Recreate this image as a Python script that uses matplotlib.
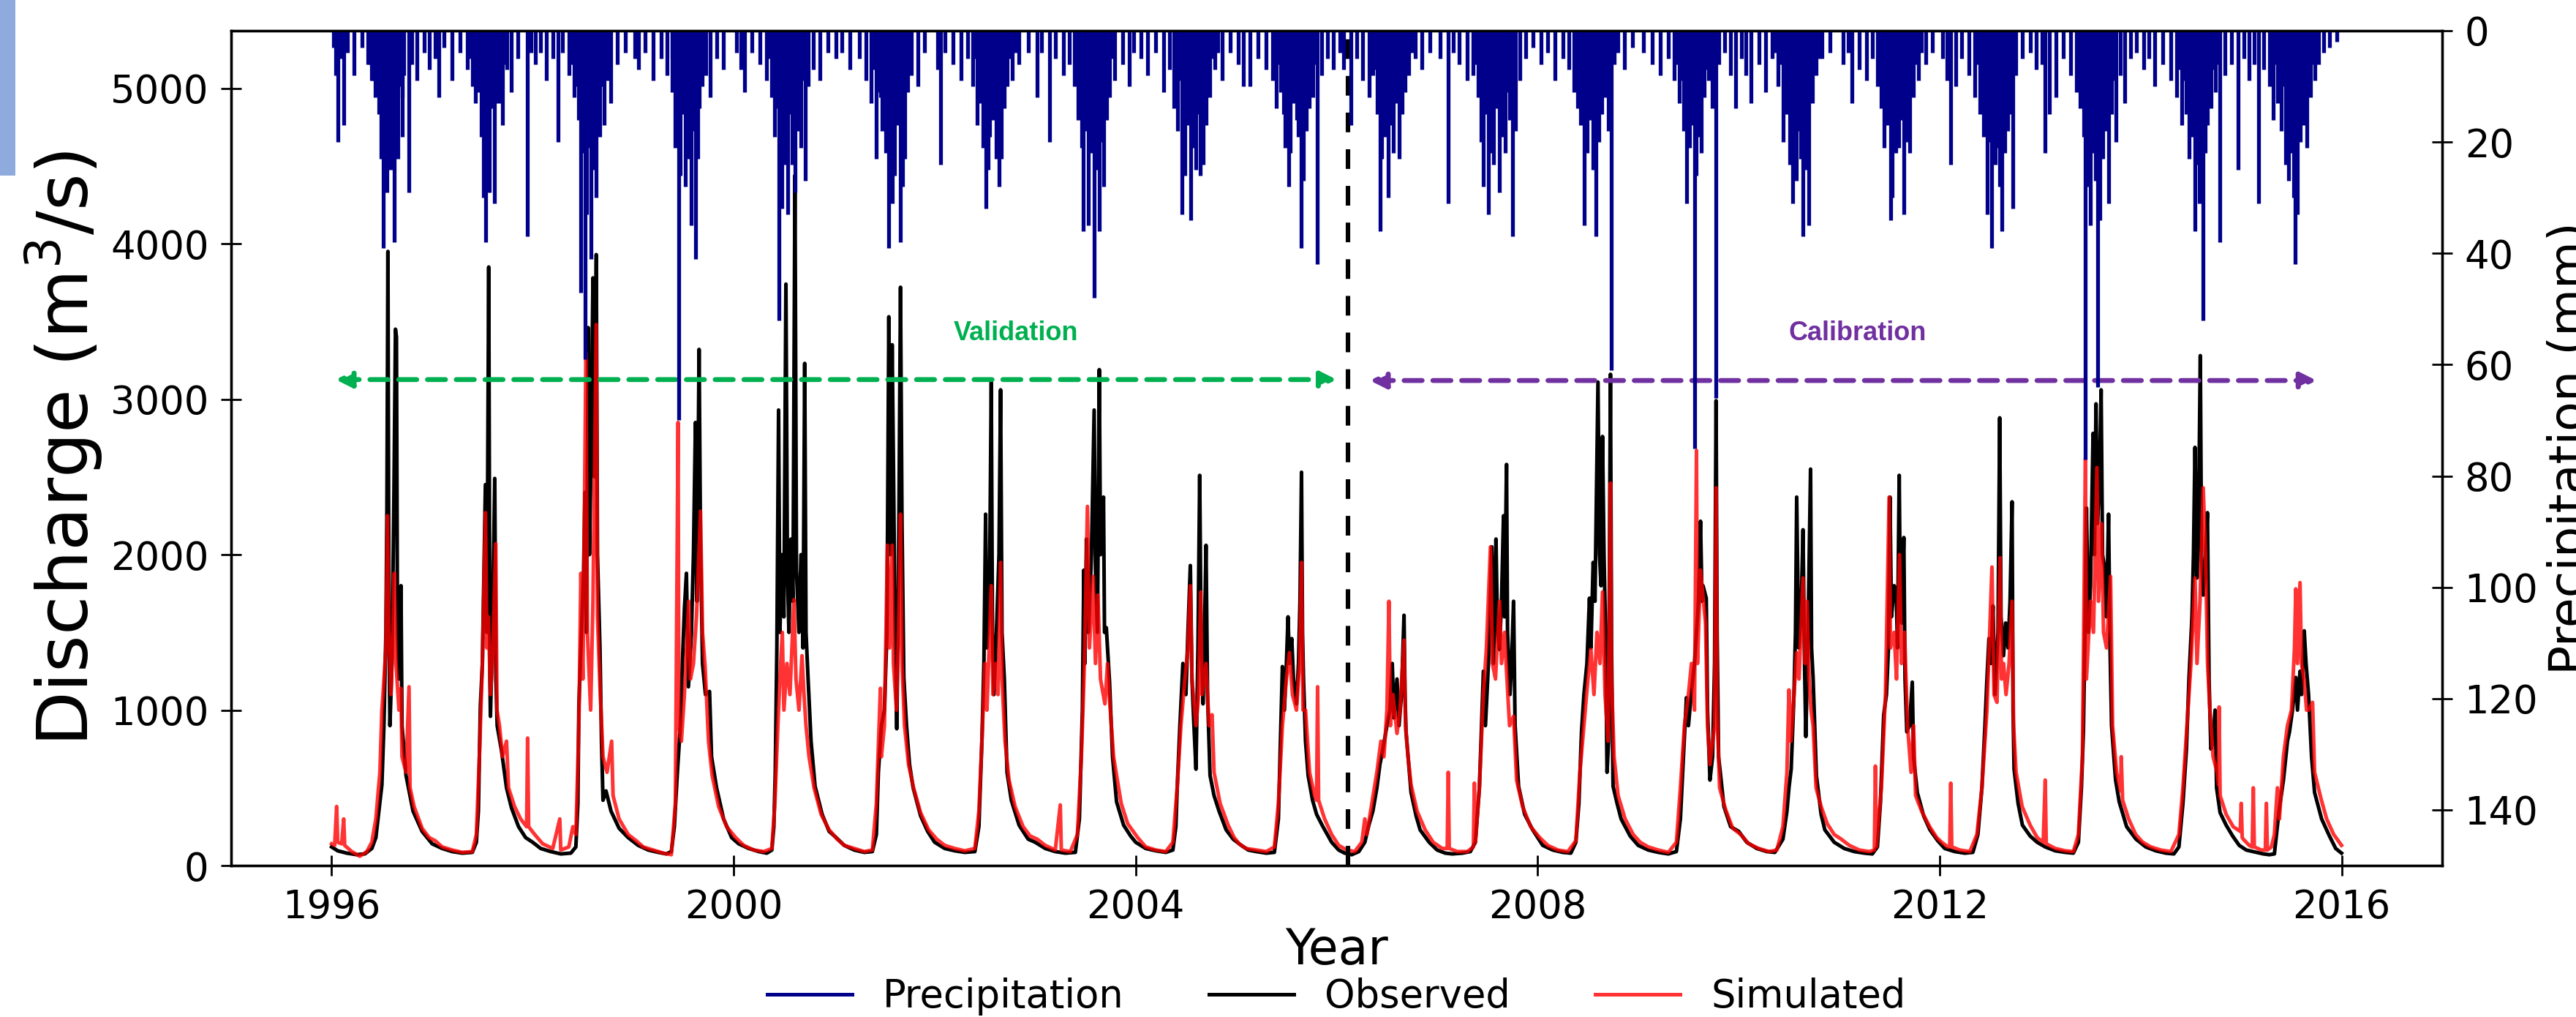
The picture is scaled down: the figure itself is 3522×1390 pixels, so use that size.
#---Observed vs simulated discharge with inverted precipitation on a twin axis
import numpy as np
import matplotlib
matplotlib.use('Agg')
import matplotlib.pyplot as plt
from matplotlib.lines import Line2D
from matplotlib.patches import Rectangle

#---Observed discharge (decimal year, m3/s)
observed = [
    (1996.00,120),(1996.06,95),(1996.15,80),(1996.25,70),(1996.33,75),(1996.40,110),(1996.44,180),(1996.47,350),(1996.50,520),(1996.52,900),(1996.54,1500),(1996.55,2300),(1996.56,3950),(1996.57,1600),(1996.58,900),(1996.60,1300),(1996.62,2400),(1996.635,3450),(1996.645,3400),(1996.655,1500),(1996.67,1200),(1996.69,1800),(1996.70,900),(1996.74,580),(1996.81,350),(1996.90,220),
    (1997.00,140),(1997.10,110),(1997.20,90),(1997.30,80),(1997.40,85),(1997.44,150),(1997.46,350),(1997.48,1030),(1997.50,1300),(1997.53,2450),(1997.545,1500),(1997.563,3850),(1997.575,1200),(1997.58,960),(1997.60,1500),(1997.623,2490),(1997.635,1200),(1997.647,900),(1997.69,740),(1997.74,500),(1997.79,370),(1997.86,250),(1997.93,180),
    (1998.00,150),(1998.08,110),(1998.18,90),(1998.28,75),(1998.38,80),(1998.43,120),(1998.45,400),(1998.46,1030),(1998.48,1400),(1998.507,1880),(1998.52,2400),(1998.535,1500),(1998.553,3460),(1998.565,2000),(1998.58,2600),(1998.60,3780),(1998.615,2500),(1998.633,3930),(1998.645,2000),(1998.67,1390),(1998.685,800),(1998.70,420),(1998.73,480),(1998.78,350),(1998.86,240),(1998.95,180),
    (1999.05,130),(1999.15,100),(1999.25,85),(1999.33,75),(1999.38,90),(1999.41,250),(1999.44,600),(1999.47,900),(1999.49,1300),(1999.51,1650),(1999.53,1880),(1999.55,1150),(1999.58,1500),(1999.60,2000),(1999.62,2850),(1999.635,1700),(1999.656,3320),(1999.67,2100),(1999.69,1300),(1999.72,1100),(1999.76,1120),(1999.78,700),(1999.83,500),(1999.90,300),(1999.98,180),
    (2000.05,140),(2000.15,110),(2000.25,90),(2000.33,80),(2000.38,100),(2000.40,250),(2000.414,600),(2000.43,1400),(2000.447,2930),(2000.46,1500),(2000.48,2000),(2000.50,1600),(2000.52,3740),(2000.535,1900),(2000.55,1500),(2000.57,2100),(2000.59,1700),(2000.61,4440),(2000.625,1900),(2000.65,1500),(2000.67,2000),(2000.69,1400),(2000.707,3230),(2000.72,1500),(2000.74,1210),(2000.77,800),(2000.81,510),(2000.88,330),(2000.95,220),
    (2001.02,180),(2001.10,130),(2001.20,100),(2001.30,85),(2001.38,90),(2001.42,200),(2001.44,600),(2001.47,900),(2001.50,1000),(2001.525,1500),(2001.544,3530),(2001.56,2000),(2001.577,3350),(2001.59,2570),(2001.605,1600),(2001.623,880),(2001.64,1800),(2001.66,3720),(2001.675,2200),(2001.693,1210),(2001.72,900),(2001.75,650),(2001.786,500),(2001.86,320),(2001.93,220),
    (2002.00,150),(2002.10,110),(2002.20,95),(2002.30,85),(2002.40,90),(2002.44,250),(2002.47,800),(2002.49,1300),(2002.507,2260),(2002.52,1400),(2002.545,1700),(2002.563,3110),(2002.575,1500),(2002.59,1100),(2002.62,1600),(2002.64,2000),(2002.656,3060),(2002.67,1500),(2002.693,1200),(2002.72,600),(2002.763,420),(2002.84,260),(2002.93,170),
    (2003.00,150),(2003.10,110),(2003.20,90),(2003.30,80),(2003.40,85),(2003.44,300),(2003.47,1000),(2003.484,1900),(2003.495,1300),(2003.51,2100),(2003.53,1500),(2003.56,2000),(2003.587,2930),(2003.60,1900),(2003.62,1500),(2003.638,3190),(2003.65,2000),(2003.68,2370),(2003.69,1500),(2003.708,1530),(2003.74,1180),(2003.77,700),(2003.81,410),(2003.88,260),(2003.95,190),
    (2004.00,150),(2004.10,110),(2004.20,95),(2004.30,85),(2004.37,100),(2004.40,250),(2004.414,510),(2004.44,900),(2004.47,1300),(2004.50,1100),(2004.52,1500),(2004.544,1930),(2004.56,1200),(2004.58,900),(2004.60,620),(2004.62,1400),(2004.637,2510),(2004.65,1500),(2004.67,1040),(2004.685,1500),(2004.70,2060),(2004.715,1100),(2004.74,580),(2004.78,450),(2004.83,350),(2004.90,230),(2004.97,170),
    (2005.05,130),(2005.12,100),(2005.20,90),(2005.30,80),(2005.38,85),(2005.42,300),(2005.44,800),(2005.46,1280),(2005.48,1000),(2005.50,1300),(2005.516,1600),(2005.53,1300),(2005.553,1460),(2005.57,1200),(2005.60,1040),(2005.62,1300),(2005.635,1700),(2005.65,2530),(2005.66,1500),(2005.67,1200),(2005.69,800),(2005.716,580),(2005.76,420),(2005.80,330),(2005.855,260),(2005.95,150),
    (2006.02,100),(2006.08,80),(2006.15,70),(2006.22,90),(2006.28,150),(2006.32,260),(2006.36,350),(2006.40,500),(2006.43,650),(2006.46,750),(2006.50,900),(2006.53,1000),(2006.553,1300),(2006.57,950),(2006.60,1200),(2006.62,900),(2006.645,1100),(2006.67,1610),(2006.68,1100),(2006.69,860),(2006.74,470),(2006.79,320),(2006.83,230),(2006.92,150),
    (2007.00,100),(2007.08,80),(2007.15,75),(2007.25,80),(2007.33,90),(2007.38,150),(2007.42,500),(2007.46,1250),(2007.48,900),(2007.51,1300),(2007.543,2050),(2007.56,1300),(2007.585,2100),(2007.60,1500),(2007.62,1390),(2007.64,1700),(2007.66,2250),(2007.67,1600),(2007.69,2580),(2007.70,1500),(2007.724,1100),(2007.74,1300),(2007.76,1700),(2007.775,900),(2007.81,510),(2007.87,330),(2007.95,230),
    (2008.05,130),(2008.15,100),(2008.25,85),(2008.33,80),(2008.38,150),(2008.41,400),(2008.436,860),(2008.46,1100),(2008.49,1300),(2008.515,1720),(2008.53,1400),(2008.552,1950),(2008.57,1700),(2008.585,2400),(2008.60,3110),(2008.615,2000),(2008.63,1800),(2008.645,2760),(2008.66,2000),(2008.675,1500),(2008.69,600),(2008.705,800),(2008.724,3160),(2008.735,1400),(2008.75,510),(2008.79,400),(2008.83,300),(2008.92,190),
    (2009.00,130),(2009.10,100),(2009.20,85),(2009.30,75),(2009.38,90),(2009.42,300),(2009.45,700),(2009.48,1080),(2009.50,900),(2009.53,1120),(2009.56,1300),(2009.58,1500),(2009.60,1700),(2009.62,2215),(2009.635,1700),(2009.645,1800),(2009.677,1720),(2009.69,1000),(2009.714,550),(2009.74,700),(2009.76,1300),(2009.775,2990),(2009.785,1500),(2009.80,700),(2009.853,380),(2009.92,250),
    (2010.00,220),(2010.08,150),(2010.18,110),(2010.28,90),(2010.36,85),(2010.44,170),(2010.48,350),(2010.50,500),(2010.522,620),(2010.55,1100),(2010.565,1500),(2010.577,2370),(2010.597,1400),(2010.62,1600),(2010.64,2160),(2010.655,1300),(2010.668,830),(2010.69,1500),(2010.715,2550),(2010.725,1400),(2010.74,1210),(2010.773,580),(2010.82,330),(2010.857,230),(2010.95,150),
    (2011.05,110),(2011.15,90),(2011.25,80),(2011.33,75),(2011.38,120),(2011.41,400),(2011.443,970),(2011.47,1100),(2011.49,1400),(2011.505,2370),(2011.52,1600),(2011.547,1800),(2011.568,1740),(2011.58,1400),(2011.597,2510),(2011.61,1600),(2011.622,1560),(2011.643,2110),(2011.655,1200),(2011.673,860),(2011.70,900),(2011.727,1180),(2011.74,700),(2011.777,470),(2011.84,320),(2011.903,230),(2011.98,160),
    (2012.05,110),(2012.15,90),(2012.25,80),(2012.33,85),(2012.38,200),(2012.42,500),(2012.45,900),(2012.47,1200),(2012.49,1460),(2012.51,1300),(2012.53,1670),(2012.55,1100),(2012.58,1500),(2012.597,2880),(2012.61,1600),(2012.635,1350),(2012.656,1560),(2012.68,1400),(2012.70,1700),(2012.72,2340),(2012.73,1000),(2012.74,620),(2012.78,400),(2012.823,260),(2012.90,190),(2012.97,150),
    (2013.05,120),(2013.15,95),(2013.25,85),(2013.33,80),(2013.38,150),(2013.41,500),(2013.43,860),(2013.445,1500),(2013.46,2300),(2013.48,1500),(2013.50,1800),(2013.526,2780),(2013.54,2000),(2013.555,2970),(2013.57,2200),(2013.59,2500),(2013.606,3060),(2013.62,2000),(2013.64,1920),(2013.66,1600),(2013.68,2260),(2013.695,1400),(2013.71,900),(2013.75,550),(2013.786,410),(2013.86,250),(2013.953,170),
    (2014.05,120),(2014.15,95),(2014.25,80),(2014.33,75),(2014.38,120),(2014.42,400),(2014.455,750),(2014.48,1200),(2014.51,1600),(2014.525,2000),(2014.54,2690),(2014.56,1850),(2014.575,2200),(2014.593,3280),(2014.605,2000),(2014.622,1740),(2014.64,1900),(2014.664,2270),(2014.68,1200),(2014.698,750),(2014.72,800),(2014.74,1000),(2014.755,500),(2014.79,340),(2014.85,260),(2014.915,190),(2014.98,130),
    (2015.05,100),(2015.15,85),(2015.22,75),(2015.28,70),(2015.33,75),(2015.376,350),(2015.42,550),(2015.46,800),(2015.48,860),(2015.51,1000),(2015.543,1210),(2015.56,1000),(2015.585,1250),(2015.60,1100),(2015.627,1510),(2015.645,1300),(2015.67,1100),(2015.70,700),(2015.73,470),(2015.80,300),(2015.878,190),(2015.94,110),(2015.998,80),
]

#---Simulated discharge (decimal year, m3/s)
simulated = [
    (1996.00,140),(1996.03,130),(1996.05,380),(1996.06,150),(1996.10,140),(1996.12,300),(1996.13,130),(1996.20,90),(1996.28,60),(1996.35,90),(1996.40,150),(1996.44,300),(1996.48,600),(1996.50,1000),(1996.51,1090),(1996.54,1400),(1996.555,2250),(1996.57,1500),(1996.59,1100),(1996.61,1500),(1996.623,1880),(1996.64,1300),(1996.67,1000),(1996.69,1140),(1996.70,700),(1996.74,600),(1996.77,1150),(1996.78,500),(1996.82,380),(1996.90,240),(1996.97,180),
    (1997.03,160),(1997.10,120),(1997.20,100),(1997.30,85),(1997.40,90),(1997.44,200),(1997.47,700),(1997.50,1300),(1997.53,2270),(1997.545,1400),(1997.56,1600),(1997.58,1100),(1997.60,1300),(1997.633,2070),(1997.645,1000),(1997.67,900),(1997.70,700),(1997.74,800),(1997.76,500),(1997.82,380),(1997.88,300),(1997.94,250),(1997.95,820),(1997.96,250),
    (1998.02,200),(1998.10,140),(1998.20,110),(1998.27,300),(1998.28,100),(1998.36,120),(1998.40,250),(1998.43,200),(1998.46,900),(1998.48,1880),(1998.50,1200),(1998.53,3300),(1998.545,1500),(1998.577,1000),(1998.60,1700),(1998.633,3480),(1998.645,1600),(1998.67,1150),(1998.70,700),(1998.74,600),(1998.786,800),(1998.80,450),(1998.86,300),(1998.95,200),
    (1999.03,160),(1999.10,120),(1999.20,100),(1999.30,80),(1999.38,70),(1999.42,400),(1999.447,2850),(1999.455,900),(1999.48,800),(1999.51,1100),(1999.553,1700),(1999.57,1200),(1999.60,1300),(1999.63,1600),(1999.67,2280),(1999.69,1500),(1999.716,1280),(1999.75,800),(1999.786,580),(1999.85,380),(1999.93,250),
    (2000.02,180),(2000.10,130),(2000.20,100),(2000.30,90),(2000.38,110),(2000.41,400),(2000.44,900),(2000.46,1200),(2000.484,1500),(2000.50,1000),(2000.53,1300),(2000.56,1100),(2000.60,1710),(2000.62,1200),(2000.65,1000),(2000.68,1350),(2000.70,1100),(2000.72,900),(2000.75,700),(2000.80,500),(2000.87,330),(2000.95,230),
    (2001.03,170),(2001.10,130),(2001.20,110),(2001.30,90),(2001.38,100),(2001.42,400),(2001.46,1140),(2001.47,700),(2001.50,900),(2001.53,2060),(2001.55,1400),(2001.577,2060),(2001.59,1300),(2001.62,1000),(2001.64,1500),(2001.66,2260),(2001.675,1300),(2001.70,900),(2001.74,650),(2001.79,500),(2001.86,340),(2001.94,230),
    (2002.02,170),(2002.10,130),(2002.20,110),(2002.30,95),(2002.40,110),(2002.44,350),(2002.47,800),(2002.50,1300),(2002.52,1000),(2002.563,1800),(2002.58,1100),(2002.61,1300),(2002.63,1100),(2002.656,1950),(2002.67,1200),(2002.70,800),(2002.74,550),(2002.80,380),(2002.88,250),(2002.95,190),
    (2003.02,170),(2003.10,130),(2003.20,100),(2003.25,390),(2003.26,100),(2003.35,90),(2003.42,200),(2003.46,700),(2003.49,1300),(2003.52,2310),(2003.54,1400),(2003.577,1860),(2003.60,1300),(2003.624,1740),(2003.65,1200),(2003.694,1040),(2003.72,1300),(2003.74,1070),(2003.78,700),(2003.856,400),(2003.92,270),
    (2004.02,180),(2004.10,120),(2004.20,100),(2004.30,90),(2004.37,150),(2004.414,510),(2004.45,900),(2004.49,1200),(2004.52,1400),(2004.544,1800),(2004.56,1200),(2004.60,900),(2004.623,1070),(2004.647,1760),(2004.66,1100),(2004.70,1300),(2004.73,900),(2004.76,970),(2004.78,600),(2004.84,400),(2004.92,260),(2004.98,180),
    (2005.03,140),(2005.10,110),(2005.20,100),(2005.30,90),(2005.38,120),(2005.42,400),(2005.46,900),(2005.50,1200),(2005.53,1370),(2005.56,1100),(2005.60,1000),(2005.63,1300),(2005.65,1950),(2005.665,1000),(2005.69,1000),(2005.73,600),(2005.78,450),(2005.80,420),(2005.81,1150),(2005.82,420),(2005.88,300),(2005.95,200),
    (2006.02,130),(2006.10,100),(2006.18,90),(2006.25,150),(2006.28,300),(2006.30,200),(2006.35,400),(2006.40,600),(2006.44,800),(2006.47,700),(2006.50,1000),(2006.52,1700),(2006.535,900),(2006.56,1100),(2006.60,850),(2006.63,1000),(2006.67,1450),(2006.685,900),(2006.71,700),(2006.74,520),(2006.80,350),(2006.88,230),(2006.96,150),
    (2007.05,110),(2007.10,110),(2007.11,600),(2007.12,110),(2007.20,90),(2007.30,90),(2007.36,120),(2007.37,530),(2007.38,150),(2007.42,500),(2007.46,1100),(2007.49,1400),(2007.53,2050),(2007.55,1300),(2007.58,1200),(2007.62,1700),(2007.64,1300),(2007.67,1500),(2007.69,1250),(2007.72,900),(2007.76,960),(2007.79,550),(2007.85,380),(2007.93,250),
    (2008.02,180),(2008.10,130),(2008.20,100),(2008.30,90),(2008.38,160),(2008.42,600),(2008.46,900),(2008.50,1200),(2008.53,1390),(2008.56,1100),(2008.59,1500),(2008.62,1300),(2008.645,1760),(2008.67,1100),(2008.70,800),(2008.724,2460),(2008.735,1200),(2008.76,700),(2008.80,450),(2008.87,300),(2008.95,200),
    (2009.02,150),(2009.10,120),(2009.20,100),(2009.30,85),(2009.38,150),(2009.42,500),(2009.46,900),(2009.50,1100),(2009.53,1300),(2009.56,1000),(2009.58,2670),(2009.59,1300),(2009.62,1900),(2009.67,1560),(2009.69,900),(2009.714,650),(2009.76,900),(2009.775,2430),(2009.785,1000),(2009.81,500),(2009.87,360),(2009.94,240),
    (2010.02,200),(2010.10,140),(2010.20,110),(2010.30,90),(2010.38,100),(2010.44,250),(2010.48,600),(2010.50,1130),(2010.52,800),(2010.55,1100),(2010.577,1370),(2010.60,1200),(2010.64,1850),(2010.66,1300),(2010.68,1700),(2010.70,1200),(2010.72,1000),(2010.74,900),(2010.77,500),(2010.82,380),(2010.88,270),(2010.95,200),
    (2011.02,170),(2011.10,130),(2011.20,100),(2011.30,90),(2011.35,100),(2011.36,640),(2011.37,120),(2011.42,500),(2011.46,1100),(2011.497,2370),(2011.51,1400),(2011.547,1500),(2011.57,1200),(2011.60,2000),(2011.62,1300),(2011.65,1500),(2011.68,900),(2011.715,600),(2011.74,900),(2011.76,450),(2011.82,350),(2011.90,250),(2011.97,180),
    (2012.02,150),(2012.08,120),(2012.10,120),(2012.11,530),(2012.12,120),(2012.20,100),(2012.30,90),(2012.37,200),(2012.42,500),(2012.47,1000),(2012.52,1920),(2012.54,1100),(2012.57,1050),(2012.60,1980),(2012.615,1200),(2012.635,1300),(2012.66,1100),(2012.69,1300),(2012.72,1700),(2012.735,900),(2012.76,600),(2012.82,380),(2012.90,260),(2012.97,180),
    (2013.03,150),(2013.05,550),(2013.06,140),(2013.15,110),(2013.25,95),(2013.33,90),(2013.38,200),(2013.42,700),(2013.45,2620),(2013.46,1200),(2013.50,1700),(2013.53,1500),(2013.564,2560),(2013.58,1700),(2013.61,2200),(2013.63,1500),(2013.66,1400),(2013.70,1860),(2013.72,900),(2013.76,600),(2013.80,480),(2013.806,700),(2013.82,420),(2013.88,300),(2013.95,200),
    (2014.02,150),(2014.10,120),(2014.20,100),(2014.30,90),(2014.38,200),(2014.42,500),(2014.46,900),(2014.50,1300),(2014.54,1850),(2014.56,1300),(2014.59,1700),(2014.622,2430),(2014.645,2000),(2014.665,1300),(2014.685,1040),(2014.72,700),(2014.76,600),(2014.775,520),(2014.78,1020),(2014.79,450),(2014.85,330),(2014.92,250),(2014.99,220),(2015.00,400),(2015.01,180),
    (2015.02,170),(2015.08,130),(2015.11,120),(2015.12,500),(2015.13,120),(2015.20,100),(2015.24,100),(2015.25,400),(2015.26,100),(2015.30,120),(2015.33,200),(2015.36,500),(2015.38,300),(2015.42,700),(2015.46,900),(2015.50,1000),(2015.53,1400),(2015.543,1780),(2015.56,1300),(2015.585,1820),(2015.60,1300),(2015.627,1190),(2015.65,1000),(2015.67,1000),(2015.71,1050),(2015.73,600),(2015.794,430),(2015.85,300),(2015.92,200),(2015.998,130),
]

#---Daily precipitation spikes (decimal year, mm)
precipitation = [
    (1996.02,3),(1996.04,8),(1996.06,20),(1996.09,5),(1996.12,17),(1996.16,4),(1996.22,8),(1996.30,3),(1996.36,6),(1996.40,9),(1996.43,12),(1996.45,7),(1996.47,15),(1996.49,23),(1996.51,39),(1996.53,18),(1996.55,29),(1996.57,14),(1996.59,25),(1996.62,38),(1996.64,12),(1996.66,23),(1996.68,10),(1996.70,19),(1996.72,8),(1996.77,29),(1996.80,6),(1996.85,9),(1996.92,4),(1996.97,7),
    (1997.03,5),(1997.07,12),(1997.12,3),(1997.20,9),(1997.28,4),(1997.35,7),(1997.40,10),(1997.43,13),(1997.46,9),(1997.49,19),(1997.51,30),(1997.53,38),(1997.55,20),(1997.57,29),(1997.59,14),(1997.62,31),(1997.64,9),(1997.67,13),(1997.70,17),(1997.74,7),(1997.79,11),(1997.85,5),(1997.95,37),(1997.98,4),
    (1998.03,6),(1998.08,4),(1998.14,9),(1998.20,5),(1998.25,20),(1998.30,4),(1998.36,8),(1998.41,12),(1998.44,10),(1998.46,16),(1998.48,47),(1998.50,22),(1998.52,59),(1998.54,33),(1998.56,18),(1998.58,41),(1998.60,25),(1998.63,30),(1998.65,14),(1998.67,19),(1998.71,17),(1998.74,9),(1998.78,13),(1998.84,6),(1998.92,4),
    (1999.02,5),(1999.05,7),(1999.12,4),(1999.20,9),(1999.28,5),(1999.34,8),(1999.39,11),(1999.42,21),(1999.45,70),(1999.47,26),(1999.49,15),(1999.52,28),(1999.55,23),(1999.58,35),(1999.60,18),(1999.62,41),(1999.64,23),(1999.66,14),(1999.69,10),(1999.72,8),(1999.77,12),(1999.83,5),(1999.90,7),
    (2000.03,4),(2000.07,7),(2000.11,11),(2000.18,4),(2000.26,6),(2000.33,9),(2000.38,12),(2000.41,19),(2000.43,14),(2000.45,52),(2000.47,22),(2000.48,32),(2000.50,24),(2000.52,19),(2000.54,33),(2000.56,15),(2000.58,24),(2000.61,29),(2000.63,18),(2000.65,13),(2000.67,21),(2000.71,27),(2000.74,10),(2000.79,7),(2000.86,9),(2000.94,4),
    (2001.02,5),(2001.08,4),(2001.16,7),(2001.25,5),(2001.32,9),(2001.37,13),(2001.42,23),(2001.45,11),(2001.48,18),(2001.51,22),(2001.54,39),(2001.56,20),(2001.58,31),(2001.60,26),(2001.63,17),(2001.66,38),(2001.68,28),(2001.70,23),(2001.73,11),(2001.77,8),(2001.83,10),(2001.90,4),
    (2002.03,7),(2002.06,24),(2002.10,4),(2002.18,6),(2002.26,9),(2002.33,5),(2002.38,10),(2002.42,17),(2002.45,13),(2002.48,21),(2002.51,32),(2002.53,25),(2002.55,19),(2002.58,16),(2002.61,23),(2002.64,28),(2002.66,23),(2002.69,14),(2002.72,10),(2002.77,9),(2002.84,6),(2002.93,4),
    (2003.02,12),(2003.06,4),(2003.14,20),(2003.20,5),(2003.28,8),(2003.34,6),(2003.39,10),(2003.43,16),(2003.46,21),(2003.48,36),(2003.50,18),(2003.53,35),(2003.56,22),(2003.59,48),(2003.61,25),(2003.64,36),(2003.66,20),(2003.68,28),(2003.71,16),(2003.74,12),(2003.79,9),(2003.87,6),(2003.94,10),(2003.98,4),
    (2004.05,5),(2004.12,8),(2004.20,4),(2004.28,11),(2004.34,7),(2004.38,14),(2004.42,18),(2004.46,33),(2004.49,26),(2004.52,17),(2004.55,34),(2004.58,21),(2004.60,25),(2004.62,15),(2004.64,26),(2004.67,24),(2004.70,17),(2004.74,12),(2004.79,7),(2004.86,9),(2004.94,4),
    (2005.02,6),(2005.07,10),(2005.14,10),(2005.22,5),(2005.30,7),(2005.36,9),(2005.40,14),(2005.44,11),(2005.47,15),(2005.49,21),(2005.52,28),(2005.54,22),(2005.57,13),(2005.60,16),(2005.62,19),(2005.65,39),(2005.67,27),(2005.70,18),(2005.73,14),(2005.76,12),(2005.81,42),(2005.85,8),(2005.91,5),(2005.97,7),
    (2006.03,4),(2006.07,7),(2006.14,17),(2006.20,5),(2006.26,9),(2006.32,12),(2006.36,8),(2006.40,15),(2006.43,36),(2006.45,23),(2006.48,19),(2006.51,30),(2006.53,17),(2006.56,22),(2006.59,13),(2006.62,23),(2006.65,15),(2006.68,11),(2006.72,8),(2006.78,5),(2006.85,7),(2006.93,4),
    (2007.03,5),(2007.11,31),(2007.16,4),(2007.22,6),(2007.30,9),(2007.36,8),(2007.41,12),(2007.44,20),(2007.46,28),(2007.48,15),(2007.51,33),(2007.53,22),(2007.56,24),(2007.59,14),(2007.62,29),(2007.65,19),(2007.68,22),(2007.72,16),(2007.75,37),(2007.78,18),(2007.82,9),(2007.88,5),(2007.95,3),
    (2008.03,6),(2008.10,4),(2008.17,9),(2008.25,5),(2008.31,7),(2008.36,11),(2008.40,14),(2008.43,17),(2008.46,35),(2008.49,22),(2008.52,16),(2008.55,25),(2008.58,37),(2008.61,20),(2008.64,15),(2008.67,12),(2008.70,18),(2008.73,61),(2008.76,6),(2008.80,4),(2008.86,7),(2008.94,3),
    (2009.05,4),(2009.14,6),(2009.22,8),(2009.30,5),(2009.36,9),(2009.41,13),(2009.45,18),(2009.48,31),(2009.51,21),(2009.53,17),(2009.56,75),(2009.58,26),(2009.60,19),(2009.63,22),(2009.66,12),(2009.70,9),(2009.74,14),(2009.77,66),(2009.80,6),(2009.86,4),(2009.92,8),(2009.97,14),
    (2010.03,5),(2010.07,8),(2010.12,13),(2010.20,6),(2010.27,11),(2010.33,5),(2010.39,10),(2010.44,20),(2010.48,15),(2010.51,24),(2010.54,31),(2010.57,27),(2010.60,18),(2010.62,23),(2010.64,37),(2010.67,25),(2010.70,35),(2010.73,13),(2010.77,8),(2010.83,5),(2010.91,4),
    (2011.04,6),(2011.09,4),(2011.13,13),(2011.20,7),(2011.27,9),(2011.33,5),(2011.38,10),(2011.42,14),(2011.45,21),(2011.48,17),(2011.51,34),(2011.53,30),(2011.56,22),(2011.59,21),(2011.62,16),(2011.64,33),(2011.67,20),(2011.70,22),(2011.74,12),(2011.79,9),(2011.86,6),(2011.93,4),
    (2012.03,5),(2012.07,9),(2012.11,24),(2012.16,10),(2012.22,5),(2012.29,8),(2012.35,12),(2012.40,15),(2012.44,19),(2012.47,33),(2012.50,20),(2012.52,39),(2012.55,24),(2012.58,21),(2012.60,28),(2012.62,36),(2012.65,22),(2012.68,18),(2012.71,15),(2012.73,32),(2012.76,8),(2012.82,5),(2012.90,4),(2012.96,7),
    (2013.02,6),(2013.05,22),(2013.09,15),(2013.16,12),(2013.23,5),(2013.30,8),(2013.36,11),(2013.40,14),(2013.43,19),(2013.45,77),(2013.48,28),(2013.50,35),(2013.52,22),(2013.55,27),(2013.57,64),(2013.59,34),(2013.62,23),(2013.65,18),(2013.68,31),(2013.71,15),(2013.75,20),(2013.80,8),(2013.84,13),(2013.90,5),(2013.96,4),
    (2014.03,7),(2014.08,5),(2014.14,10),(2014.22,6),(2014.30,9),(2014.36,12),(2014.41,17),(2014.45,15),(2014.48,23),(2014.51,19),(2014.54,36),(2014.56,24),(2014.58,31),(2014.60,20),(2014.62,52),(2014.64,22),(2014.66,17),(2014.70,14),(2014.74,11),(2014.79,38),(2014.84,8),(2014.90,6),(2014.97,25),
    (2015.03,5),(2015.08,9),(2015.13,6),(2015.17,31),(2015.22,7),(2015.28,10),(2015.32,16),(2015.36,13),(2015.40,18),(2015.44,24),(2015.47,27),(2015.50,22),(2015.52,30),(2015.54,42),(2015.56,33),(2015.59,20),(2015.62,17),(2015.65,21),(2015.69,12),(2015.73,9),(2015.77,6),(2015.82,4),(2015.88,3),(2015.95,2),
]

#---Light-rain days filling the wet-season band near the top (decimal year, mm)
precipitation_light = [
    (1996.385,6),(1996.415,9),(1996.44,11),(1996.46,8),(1996.495,14),(1996.525,12),(1996.545,16),(1996.565,10),(1996.595,13),(1996.615,17),(1996.635,11),(1996.655,14),(1996.675,9),(1996.705,12),
    (1997.385,5),(1997.415,8),(1997.44,7),(1997.47,11),(1997.495,14),(1997.525,12),(1997.545,15),(1997.565,10),(1997.595,12),(1997.615,9),(1997.635,13),(1997.655,8),(1997.685,10),(1997.715,6),
    (1998.385,6),(1998.425,9),(1998.45,8),(1998.47,12),(1998.49,15),(1998.51,18),(1998.53,20),(1998.55,16),(1998.57,21),(1998.59,14),(1998.615,17),(1998.64,12),(1998.66,15),(1998.69,10),
    (1999.385,5),(1999.405,8),(1999.435,10),(1999.46,12),(1999.48,9),(1999.505,14),(1999.535,11),(1999.565,13),(1999.59,16),(1999.61,12),(1999.63,15),(1999.65,10),(1999.675,8),(1999.705,6),
    (2000.355,5),(2000.395,8),(2000.42,10),(2000.44,12),(2000.46,15),(2000.49,13),(2000.51,16),(2000.53,11),(2000.55,14),(2000.57,12),(2000.595,15),(2000.62,10),(2000.64,13),(2000.69,9),
    (2001.395,7),(2001.435,9),(2001.465,12),(2001.495,10),(2001.525,14),(2001.55,12),(2001.57,16),(2001.59,13),(2001.615,11),(2001.645,15),(2001.67,12),(2001.69,14),(2001.715,8),(2001.75,6),
    (2002.40,5),(2002.435,8),(2002.465,11),(2002.495,9),(2002.52,13),(2002.54,10),(2002.565,12),(2002.595,9),(2002.625,11),(2002.65,13),(2002.675,9),(2002.705,7),(2002.74,5),(2002.80,4),
    (2003.41,6),(2003.445,9),(2003.47,12),(2003.49,10),(2003.515,14),(2003.545,12),(2003.575,15),(2003.60,11),(2003.625,13),(2003.65,10),(2003.67,12),(2003.695,9),(2003.725,7),(2003.76,5),
    (2004.40,6),(2004.44,9),(2004.475,11),(2004.505,13),(2004.535,10),(2004.565,12),(2004.59,14),(2004.61,10),(2004.63,12),(2004.655,11),(2004.685,9),(2004.72,7),(2004.765,5),(2004.82,4),
    (2005.42,6),(2005.455,8),(2005.48,10),(2005.505,12),(2005.53,11),(2005.555,9),(2005.585,10),(2005.61,8),(2005.635,12),(2005.66,13),(2005.685,10),(2005.715,8),(2005.745,7),(2005.79,6),
    (2006.34,5),(2006.38,7),(2006.415,10),(2006.44,12),(2006.465,9),(2006.495,11),(2006.52,13),(2006.545,10),(2006.575,9),(2006.605,8),(2006.635,10),(2006.665,7),(2006.70,5),(2006.75,4),
    (2007.39,6),(2007.425,8),(2007.45,10),(2007.47,12),(2007.495,11),(2007.52,13),(2007.545,10),(2007.575,11),(2007.605,9),(2007.635,12),(2007.665,10),(2007.695,11),(2007.735,9),(2007.765,8),
    (2008.38,6),(2008.415,8),(2008.445,10),(2008.475,12),(2008.505,10),(2008.535,9),(2008.565,13),(2008.595,11),(2008.625,9),(2008.655,8),(2008.685,10),(2008.715,7),(2008.745,5),(2008.78,3),
    (2009.39,6),(2009.43,9),(2009.465,11),(2009.495,12),(2009.52,10),(2009.545,13),(2009.57,11),(2009.59,12),(2009.615,10),(2009.645,9),(2009.68,7),(2009.72,6),(2009.755,8),(2009.79,4),
    (2010.42,6),(2010.46,9),(2010.495,11),(2010.525,13),(2010.555,12),(2010.585,14),(2010.61,11),(2010.63,13),(2010.655,12),(2010.685,14),(2010.715,9),(2010.75,6),(2010.79,5),(2010.36,4),
    (2011.40,6),(2011.435,9),(2011.465,11),(2011.495,12),(2011.52,14),(2011.545,12),(2011.575,11),(2011.605,10),(2011.63,12),(2011.655,11),(2011.685,10),(2011.72,8),(2011.765,6),(2011.82,4),
    (2012.375,6),(2012.42,9),(2012.455,11),(2012.485,13),(2012.51,12),(2012.535,14),(2012.565,12),(2012.59,13),(2012.61,15),(2012.635,12),(2012.665,11),(2012.695,9),(2012.72,8),(2012.75,6),
    (2013.38,7),(2013.415,10),(2013.44,12),(2013.465,14),(2013.49,13),(2013.51,16),(2013.535,13),(2013.56,15),(2013.58,14),(2013.605,12),(2013.635,13),(2013.665,11),(2013.695,10),(2013.73,9),
    (2014.39,7),(2014.43,9),(2014.465,11),(2014.495,12),(2014.525,14),(2014.55,13),(2014.57,15),(2014.59,12),(2014.61,14),(2014.63,12),(2014.65,10),(2014.68,9),(2014.72,7),(2014.765,6),
    (2015.34,6),(2015.38,8),(2015.42,10),(2015.455,12),(2015.485,13),(2015.51,12),(2015.53,14),(2015.55,13),(2015.575,12),(2015.605,10),(2015.635,11),(2015.67,8),(2015.71,6),(2015.75,4),
]

year_ticks = [1996, 2000, 2004, 2008, 2012, 2016]
q_ticks = [0, 1000, 2000, 3000, 4000, 5000]
p_ticks = [0, 20, 40, 60, 80, 100, 120, 140]

#---Period split
split_year = 2006.11
validation_span = (1996.0, 2006.04)
calibration_span = (2006.29, 2015.79)

obs_t, obs_q = zip(*observed)
sim_t, sim_q = zip(*simulated)
p_t, p_v = zip(*(precipitation + precipitation_light))

plt.rcParams['font.family'] = 'DejaVu Sans'
fig = plt.figure(figsize=(3523/200, 1390/200), dpi=200)
ax = fig.add_axes([0.0897, 0.1489, 0.8581, 0.8209])

ax.plot(obs_t, obs_q, color='black', lw=1.8, label='Observed')
ax.plot(sim_t, sim_q, color='red', alpha=0.8, lw=1.8, label='Simulated')

ax.axvline(split_year, color='black', lw=2.2, ls=(0, (4.4, 3.8)))

green = '#00B050'
purple = '#7030A0'
ax.annotate('', xy=(validation_span[1], 3126), xytext=(validation_span[0], 3126),
            arrowprops=dict(arrowstyle='<|-|>', color=green, lw=2.4, ls=(0, (3.7, 2.2)), mutation_scale=16))
ax.annotate('', xy=(calibration_span[1], 3120), xytext=(calibration_span[0], 3120),
            arrowprops=dict(arrowstyle='<|-|>', color=purple, lw=2.4, ls=(0, (3.7, 2.2)), mutation_scale=16))
ax.text(2002.81, 3423, 'Validation', color=green, fontsize=13, fontweight='bold',
        family='Liberation Sans', ha='center', va='center')
ax.text(2011.18, 3423, 'Calibration', color=purple, fontsize=13, fontweight='bold',
        family='Liberation Sans', ha='center', va='center')

ax.set_xlim(1995, 2017)
ax.set_ylim(0, 5370)
ax.set_xticks(year_ticks)
ax.set_yticks(q_ticks)
ax.set_xlabel('Year', fontsize=24, labelpad=0)
ax.set_ylabel('Discharge (m$^3$/s)', fontsize=35, labelpad=3)
ax.tick_params(direction='inout', length=10, width=1.0, labelsize=19, pad=6)

#---Precipitation, inverted on the right axis
ax2 = ax.twinx()
ax2.vlines(p_t, 0, p_v, color='darkblue', lw=1.9)
ax2.set_ylim(150, 0)
ax2.set_yticks(p_ticks)
ax2.set_ylabel('Precipitation (mm)', fontsize=24, labelpad=4)
ax2.tick_params(direction='inout', length=10, width=1.0, labelsize=19, pad=6)

for a in (ax, ax2):
    for s in a.spines.values():
        s.set_linewidth(1.2)

handles = [Line2D([], [], color='darkblue', lw=1.8),
           Line2D([], [], color='black', lw=1.8),
           Line2D([], [], color='red', alpha=0.8, lw=1.8)]
fig.legend(handles, ['Precipitation', 'Observed', 'Simulated'], loc='center',
           bbox_to_anchor=(0.5187, 0.02), ncol=3, frameon=False, fontsize=19,
           handlelength=2.2, columnspacing=2.2)

fig.add_artist(Rectangle((0, 1 - 240/1390), 21/3523, 240/1390, transform=fig.transFigure,
                         color='#8FAADC', lw=0))

fig.savefig('out.png', dpi=200)
